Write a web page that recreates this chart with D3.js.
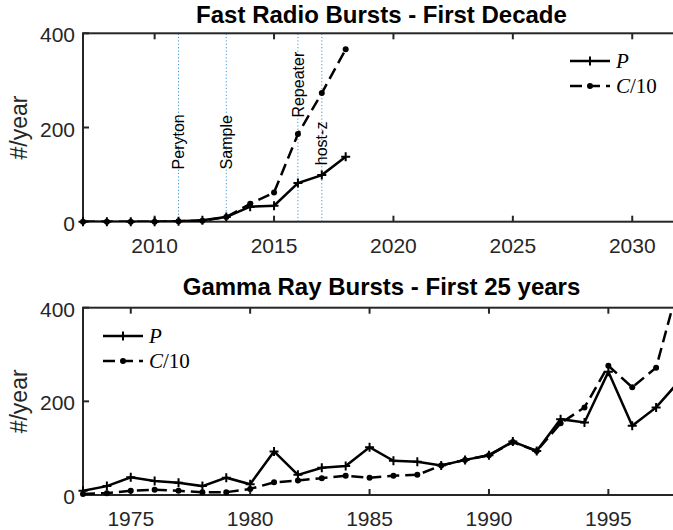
<!DOCTYPE html>
<html>
<head>
<meta charset="utf-8">
<script src="https://cdn.jsdelivr.net/npm/d3@7"></script>
<style>
  body { margin: 0; background: #fff; }
  svg { display: block; }
</style>
</head>
<body>
<div id="chart"></div>
<script>
// FRB panel data
const frbYears = [2007, 2008, 2009, 2010, 2011, 2012, 2013, 2014, 2015, 2016, 2017, 2018];
const frbP     = [0, 0, 0, 0, 1, 3, 10, 32, 34, 82, 99, 138];
const frbC10   = [0, 0, 0, 0, 1, 2, 10, 38, 62, 186, 273, 366];
const frbEvents = ["Peryton", "Sample", "Repeater", "host-z"];
const frbEventYears = [2011, 2013, 2016, 2017];
const frbEventLabelY = [111, 111, 221, 120];
const frbTicks = [2010, 2015, 2020, 2025, 2030];

// GRB panel data
const grbYears = [1973, 1974, 1975, 1976, 1977, 1978, 1979, 1980, 1981, 1982, 1983, 1984, 1985,
                  1986, 1987, 1988, 1989, 1990, 1991, 1992, 1993, 1994, 1995, 1996, 1997, 1998];
const grbP     = [9, 19, 38, 30, 26, 19, 37, 23, 93, 43, 58, 62, 102,
                  73, 71, 63, 75, 85, 114, 94, 162, 155, 263, 148, 187, 245];
const grbC10   = [2, 4, 9, 11, 9, 6, 6, 13, 27, 31, 36, 41, 37,
                  41, 43, 63, 75, 85, 113, 94, 153, 187, 276, 230, 272, 460];
const grbTicks = [1975, 1980, 1985, 1990, 1995];

const yTicks = [0, 200, 400];

const width = 673, height = 530;
const axisColor = "#262626";
const sans = "'Liberation Sans', Arial, Helvetica, sans-serif";
const serif = "'Liberation Serif', 'DejaVu Serif', serif";

const svg = d3.select("#chart")
    .append("svg")
    .attr("width", width)
    .attr("height", height);

const drawPanel = (opt) => {
    const x = d3.scaleLinear().domain(opt.xDomain).range([opt.left, opt.right]);
    const y = d3.scaleLinear().domain([0, 400]).range([opt.bottom, opt.top]);
    const g = svg.append("g");

    // event markers (dotted verticals + rotated labels)
    if (opt.events) {
        g.selectAll(".event")
            .data(opt.events)
            .join("line")
                .attr("x1", d => x(d.year)).attr("x2", d => x(d.year))
                .attr("y1", y(0)).attr("y2", y(400))
                .attr("stroke", "#3d95d4")
                .attr("stroke-width", 1)
                .attr("stroke-dasharray", "1.2,2.2");
        g.selectAll(".event-label")
            .data(opt.events)
            .join("text")
                .attr("transform", d => `translate(${x(d.year)},${y(d.labelY)}) rotate(-90)`)
                .attr("dy", "0.35em")
                .attr("font-family", sans)
                .attr("font-size", 16)
                .attr("fill", "#000")
                .text(d => d.name);
    }

    // box
    g.append("rect")
        .attr("x", opt.left).attr("y", opt.top)
        .attr("width", opt.right - opt.left).attr("height", opt.bottom - opt.top)
        .attr("fill", "none")
        .attr("stroke", axisColor)
        .attr("stroke-width", 2);

    const tl = 6;
    // x ticks (bottom and top, inward)
    opt.xTicks.forEach(t => {
        g.append("line").attr("x1", x(t)).attr("x2", x(t))
            .attr("y1", opt.bottom).attr("y2", opt.bottom - tl)
            .attr("stroke", axisColor).attr("stroke-width", 2);
        g.append("line").attr("x1", x(t)).attr("x2", x(t))
            .attr("y1", opt.top).attr("y2", opt.top + tl)
            .attr("stroke", axisColor).attr("stroke-width", 2);
    });
    g.selectAll(".xlab")
        .data(opt.xTicks)
        .join("text")
            .attr("x", d => x(d))
            .attr("y", opt.bottom + 31)
            .attr("text-anchor", "middle")
            .attr("font-family", sans)
            .attr("font-size", 21)
            .attr("fill", axisColor)
            .text(d => d);

    // y ticks (left and right, inward)
    yTicks.forEach(t => {
        g.append("line").attr("x1", opt.left).attr("x2", opt.left + tl)
            .attr("y1", y(t)).attr("y2", y(t))
            .attr("stroke", axisColor).attr("stroke-width", 2);
        g.append("line").attr("x1", opt.right).attr("x2", opt.right - tl)
            .attr("y1", y(t)).attr("y2", y(t))
            .attr("stroke", axisColor).attr("stroke-width", 2);
    });
    g.selectAll(".ylab")
        .data(yTicks)
        .join("text")
            .attr("x", opt.left - 8)
            .attr("y", d => y(d) + 9)
            .attr("text-anchor", "end")
            .attr("font-family", sans)
            .attr("font-size", 21)
            .attr("fill", axisColor)
            .text(d => d);

    g.append("text")
        .attr("transform", `translate(27,${(opt.top + opt.bottom) / 2}) rotate(-90)`)
        .attr("text-anchor", "middle")
        .attr("font-family", sans)
        .attr("font-size", 23)
        .attr("fill", axisColor)
        .text("#/year");

    g.append("text")
        .attr("x", (opt.left + opt.right) / 2)
        .attr("y", opt.titleY)
        .attr("text-anchor", "middle")
        .attr("font-family", sans)
        .attr("font-weight", "bold")
        .attr("font-size", 24)
        .attr("fill", "#000")
        .text(opt.title);

    // clip lines to the axes box
    const clipId = "clip-" + opt.id;
    svg.append("clipPath").attr("id", clipId)
        .append("rect")
            .attr("x", opt.left).attr("y", opt.top)
            .attr("width", opt.right - opt.left).attr("height", opt.bottom - opt.top);

    const line = d3.line().x(d => x(d.year)).y(d => y(d.v));
    const pData = opt.years.map((yr, i) => ({year: yr, v: opt.p[i]}));
    const cData = opt.years.map((yr, i) => ({year: yr, v: opt.c[i]}));

    g.append("path")
        .datum(cData)
        .attr("clip-path", `url(#${clipId})`)
        .attr("d", line)
        .attr("fill", "none")
        .attr("stroke", "#000")
        .attr("stroke-width", 2.5)
        .attr("stroke-dasharray", "12,6");
    g.append("path")
        .datum(pData)
        .attr("clip-path", `url(#${clipId})`)
        .attr("d", line)
        .attr("fill", "none")
        .attr("stroke", "#000")
        .attr("stroke-width", 2.5);

    const inside = d => d.v <= 400;
    g.selectAll(".cdot")
        .data(cData.filter(inside))
        .join("circle")
            .attr("cx", d => x(d.year)).attr("cy", d => y(d.v))
            .attr("r", 3)
            .attr("fill", "#000");
    const plus = d => `M${x(d.year) - 4.5},${y(d.v)}h9M${x(d.year)},${y(d.v) - 4.5}v9`;
    g.selectAll(".pplus")
        .data(pData.filter(inside))
        .join("path")
            .attr("d", plus)
            .attr("stroke", "#000")
            .attr("stroke-width", 2);

    // legend
    const lg = g.append("g").attr("transform", `translate(${opt.legendX},${opt.legendY})`);
    lg.append("line").attr("x1", 0).attr("x2", 40).attr("y1", 0).attr("y2", 0)
        .attr("stroke", "#000").attr("stroke-width", 2.5);
    lg.append("path").attr("d", "M15.5,0h9M20,-4.5v9").attr("stroke", "#000").attr("stroke-width", 2);
    lg.append("line").attr("x1", 0).attr("x2", 40).attr("y1", 25).attr("y2", 25)
        .attr("stroke", "#000").attr("stroke-width", 2.5)
        .attr("stroke-dasharray", "12,6");
    lg.append("circle").attr("cx", 20).attr("cy", 25).attr("r", 3).attr("fill", "#000");

    lg.append("text").attr("x", 46).attr("y", 7)
        .attr("font-family", serif).attr("font-size", 21).attr("font-style", "italic")
        .text("P");
    const t2 = lg.append("text").attr("x", 46).attr("y", 32)
        .attr("font-family", serif).attr("font-size", 21);
    t2.append("tspan").attr("font-style", "italic").text("C");
    t2.append("tspan").text("/10");
};

drawPanel({
    id: "frb",
    title: "Fast Radio Bursts - First Decade",
    titleY: 23,
    xDomain: [2007, 2032],
    left: 83, right: 680, top: 33.3, bottom: 221.7,
    xTicks: frbTicks,
    years: frbYears, p: frbP, c: frbC10,
    events: frbEvents.map((name, i) => ({name, year: frbEventYears[i], labelY: frbEventLabelY[i]})),
    legendX: 570, legendY: 61
});

drawPanel({
    id: "grb",
    title: "Gamma Ray Bursts - First 25 years",
    titleY: 295,
    xDomain: [1973, 1998],
    left: 83, right: 680, top: 307.7, bottom: 495,
    xTicks: grbTicks,
    years: grbYears, p: grbP, c: grbC10,
    legendX: 103, legendY: 336
});
</script>
</body>
</html>
